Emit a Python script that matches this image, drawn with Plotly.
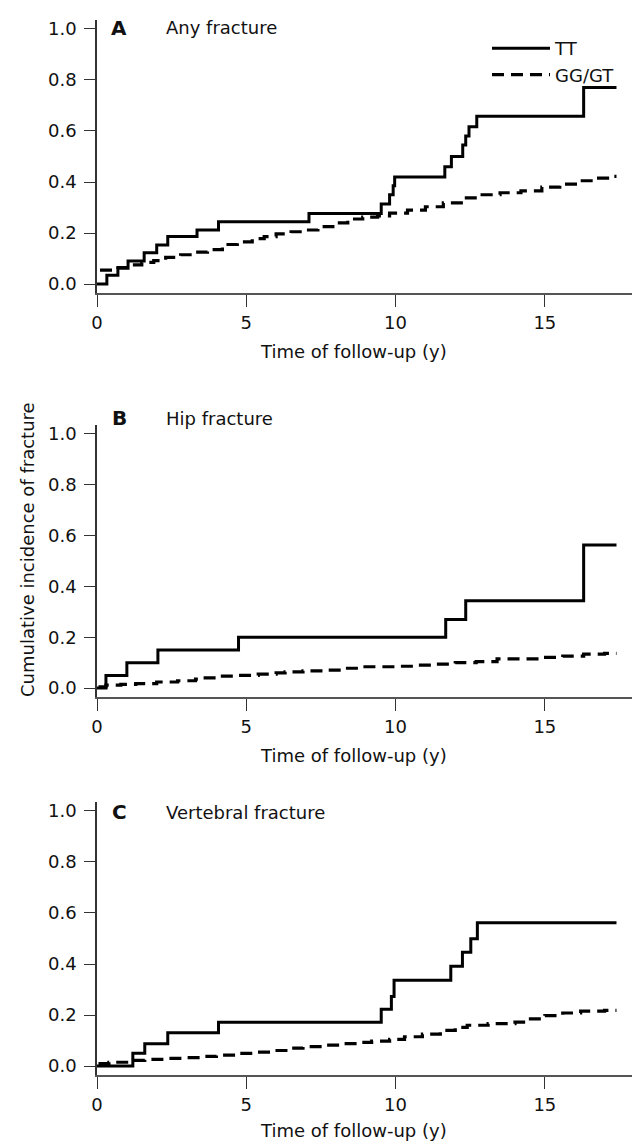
import plotly.graph_objects as go
from plotly.subplots import make_subplots

# ---------------- data (years, cumulative incidence) ----------------
# Panel A: any fracture
a_tt_t = [0, 0.33, 0.70, 1.04, 1.58, 2.0, 2.37, 3.35, 4.07, 7.1, 9.52, 9.8, 9.92, 9.97,
          11.65, 11.87, 12.25, 12.35, 12.46, 12.72, 16.3, 17.4]
a_tt_v = [0, 0.035, 0.062, 0.09, 0.123, 0.153, 0.186, 0.212, 0.244, 0.277, 0.314, 0.35, 0.385, 0.42,
          0.46, 0.50, 0.545, 0.58, 0.617, 0.658, 0.77, 0.77]
a_gg_t = [0.1, 0.6, 1.0, 1.5, 1.9, 2.3, 2.8, 3.3, 3.7, 4.2, 4.7, 5.2, 5.6, 6.0, 6.5, 7.0, 7.4,
          7.9, 8.4, 8.9, 9.4, 9.8, 10.4, 11.0, 11.6, 12.3, 12.9, 13.5, 14.2, 14.9, 15.5, 16.2,
          16.8, 17.1, 17.4]
a_gg_v = [0.055, 0.065, 0.075, 0.085, 0.092, 0.105, 0.115, 0.125, 0.135, 0.155, 0.165, 0.178,
          0.186, 0.197, 0.205, 0.212, 0.225, 0.24, 0.255, 0.262, 0.267, 0.278, 0.29, 0.303,
          0.318, 0.338, 0.35, 0.358, 0.365, 0.38, 0.392, 0.405, 0.415, 0.422, 0.422]

# Panel B: hip fracture
b_tt_t = [0, 0.3, 1.0, 2.04, 4.74, 11.68, 12.35, 16.3, 17.4]
b_tt_v = [0, 0.05, 0.1, 0.15, 0.2, 0.27, 0.344, 0.563, 0.563]
b_gg_t = [0.05, 0.3, 0.8, 1.3, 2.0, 2.7, 3.3, 3.5, 4.0, 4.7, 5.4, 6.0, 6.3, 6.9, 7.6, 8.2,
          8.9, 10.0, 10.6, 11.3, 12.0, 12.7, 13.4, 14.8, 15.6, 16.3, 17.0, 17.4]
b_gg_v = [0.005, 0.012, 0.015, 0.018, 0.024, 0.029, 0.035, 0.04, 0.047, 0.05, 0.055, 0.06,
          0.064, 0.068, 0.071, 0.078, 0.084, 0.086, 0.09, 0.094, 0.1, 0.104, 0.115, 0.121,
          0.126, 0.134, 0.137, 0.137]

# Panel C: vertebral fracture
c_tt_t = [0, 1.2, 1.6, 2.37, 4.07, 9.52, 9.86, 9.95, 11.85, 12.24, 12.52, 12.74, 17.4]
c_tt_v = [0, 0.05, 0.087, 0.131, 0.172, 0.223, 0.273, 0.336, 0.391, 0.446, 0.499, 0.562, 0.562]
c_gg_t = [0.05, 0.4, 1.2, 1.6, 2.4, 3.0, 3.5, 4.0, 4.7, 5.3, 5.8, 6.4, 6.9, 7.6, 8.2, 8.8,
          9.2, 9.8, 10.3, 10.9, 11.5, 12.0, 12.4, 13.1, 14.0, 14.4, 15.0, 15.6, 16.2, 17.0, 17.4]
c_gg_v = [0.01, 0.015, 0.022, 0.026, 0.03, 0.033, 0.038, 0.043, 0.05, 0.055, 0.061, 0.07,
          0.076, 0.082, 0.088, 0.093, 0.098, 0.105, 0.115, 0.125, 0.14, 0.152, 0.16, 0.166,
          0.172, 0.185, 0.198, 0.208, 0.215, 0.218, 0.218]

panel_letters = ["A", "B", "C"]
panel_titles = ["Any fracture", "Hip fracture", "Vertebral fracture"]
series_names = ["TT", "GG/GT"]
y_ticks = [0.0, 0.2, 0.4, 0.6, 0.8, 1.0]
x_ticks = [0, 5, 10, 15]
x_title = "Time of follow-up (y)"
y_title = "Cumulative incidence of fracture"

# ---------------- layout geometry ----------------
# the page body adds an 8px margin; the figure is sized to fit inside it
OFF = 8
W, H = 640 - OFF, 1142 - OFF
ML, MT = 97 - OFF, 20 - OFF
MR = W - (635 - OFF)
MB = H - (1075 - OFF)
PW, PH = W - ML - MR, H - MT - MB


def px(xp):
    """page pixel x -> paper x"""
    return (xp - OFF - ML) / PW


def py(yp):
    """page pixel y -> paper y"""
    return (H - MB - (yp - OFF)) / PH


FONT = "DejaVu Sans"
INK = "#111111"

fig = make_subplots(rows=3, cols=1)

panels = [(a_tt_t, a_tt_v, a_gg_t, a_gg_v),
          (b_tt_t, b_tt_v, b_gg_t, b_gg_v),
          (c_tt_t, c_tt_v, c_gg_t, c_gg_v)]

for i, (tt_t, tt_v, gg_t, gg_v) in enumerate(panels):
    fig.add_trace(go.Scatter(x=tt_t, y=tt_v, mode="lines", line_shape="hv",
                             line=dict(color="black", width=3),
                             name=series_names[0], legendgroup="tt", showlegend=(i == 0)),
                  row=i + 1, col=1)
    fig.add_trace(go.Scatter(x=gg_t, y=gg_v, mode="lines", line_shape="hv",
                             line=dict(color="black", width=3.2, dash="12px,7px"),
                             name=series_names[1], legendgroup="gg", showlegend=(i == 0)),
                  row=i + 1, col=1)

# axis boxes of each panel, in page pixels (top, bottom)
boxes = [(20, 293), (425, 697), (802, 1075)]
for i, (top, bot) in enumerate(boxes):
    fig.update_yaxes(domain=[py(bot), py(top)], range=[-0.035, 1.035],
                     tickvals=y_ticks, ticktext=[f"{v:.1f}" for v in y_ticks],
                     ticks="outside", ticklen=11, tickwidth=1.3, tickcolor="#333",
                     showline=True, linecolor="#333", linewidth=1.5,
                     showgrid=False, zeroline=False, ticklabelstandoff=4,
                     tickfont=dict(family=FONT, size=18, color=INK),
                     row=i + 1, col=1)
    fig.update_xaxes(domain=[0, 1], range=[0, 18.02],
                     tickvals=x_ticks, ticktext=[str(v) for v in x_ticks],
                     ticks="outside", ticklen=12, tickwidth=1.3, tickcolor="#333",
                     showline=True, linecolor="#555", linewidth=2,
                     showgrid=False, zeroline=False,
                     tickfont=dict(family=FONT, size=18, color=INK),
                     row=i + 1, col=1)

annotations = []
letter_y = [27.5, 418, 812]
title_x_y = [351, 755, 1130]
for i in range(3):
    annotations.append(dict(text=f"<b>{panel_letters[i]}</b>", xref="paper", yref="paper",
                            x=px(119), y=py(letter_y[i]), xanchor="center", yanchor="middle",
                            showarrow=False, font=dict(family=FONT, size=20, color=INK)))
    annotations.append(dict(text=panel_titles[i], xref="paper", yref="paper",
                            x=px(164), y=py(letter_y[i]), xanchor="left", yanchor="middle",
                            showarrow=False, font=dict(family=FONT, size=18, color=INK)))
    annotations.append(dict(text=x_title, xref="paper", yref="paper",
                            x=px(353), y=py(title_x_y[i]), xanchor="center", yanchor="middle",
                            showarrow=False, font=dict(family=FONT, size=18, color=INK)))
annotations.append(dict(text=y_title, xref="paper", yref="paper", textangle=-90,
                        x=px(27), y=py(550), xanchor="center", yanchor="middle",
                        showarrow=False, font=dict(family=FONT, size=18, color=INK)))

fig.update_layout(
    width=W, height=H,
    margin=dict(l=ML, r=MR, t=MT, b=MB),
    paper_bgcolor="white", plot_bgcolor="white",
    showlegend=True,
    legend=dict(x=px(487), y=py(30), xanchor="left", yanchor="top",
                bgcolor="rgba(0,0,0,0)", itemwidth=58,
                font=dict(family=FONT, size=18, color=INK),
                tracegroupgap=0),
    annotations=annotations,
)

fig.write_html("out.html")
